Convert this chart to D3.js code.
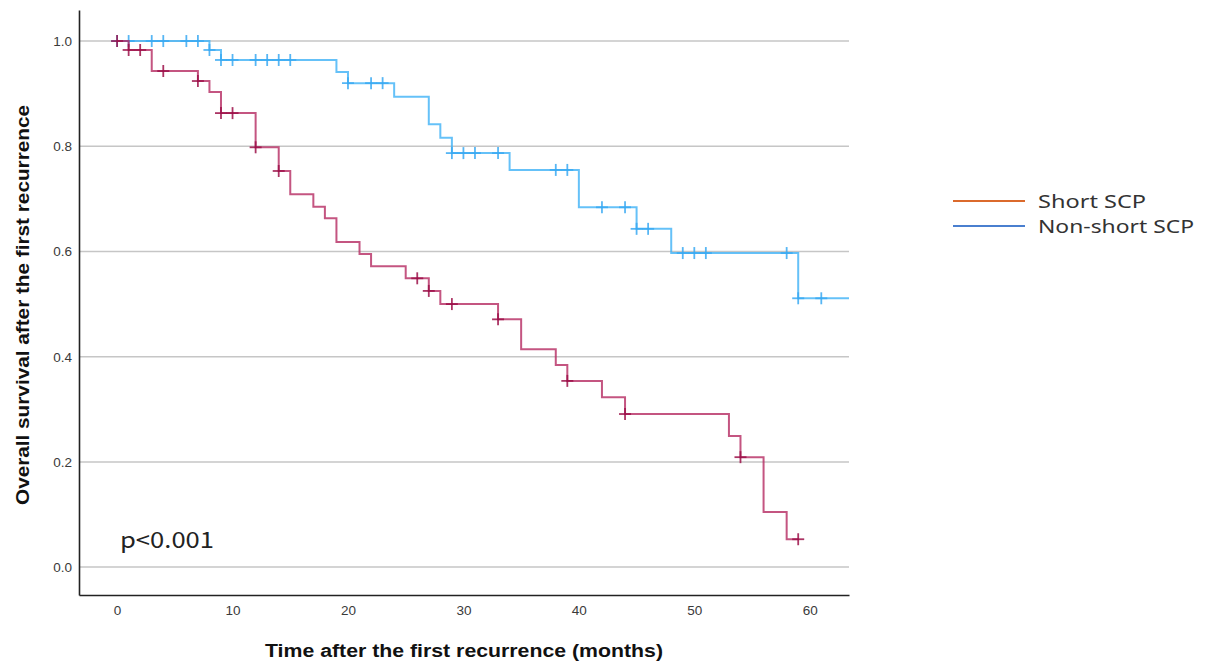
<!DOCTYPE html>
<html>
<head>
<meta charset="utf-8">
<script src="https://cdn.jsdelivr.net/npm/d3@7"></script>
<style>
  body { margin: 0; background: #fff; }
  svg { display: block; }
</style>
</head>
<body>
<svg width="1205" height="661"></svg>
<script>
// step curves (months, survival)
var shortTimes = [0, 1, 3, 7, 8, 9, 12, 14, 15, 17, 18, 19, 21, 22, 25, 27, 28, 33, 35, 38, 39, 42, 44, 53, 54, 56, 58];
var shortSurv  = [1.0, 0.983, 0.943, 0.924, 0.903, 0.863, 0.798, 0.753, 0.709, 0.685, 0.663, 0.618, 0.595, 0.572, 0.549, 0.525, 0.500, 0.471, 0.414, 0.384, 0.354, 0.323, 0.291, 0.249, 0.209, 0.105, 0.053];
var shortCensor = [0, 1, 2, 4, 7, 9, 10, 12, 14, 26, 27, 29, 33, 39, 44, 54, 59];
var shortEnd = 59;

var nonShortTimes = [0, 8, 9, 19, 20, 24, 27, 28, 29, 34, 40, 45, 48, 59];
var nonShortSurv  = [1.0, 0.983, 0.964, 0.941, 0.920, 0.894, 0.842, 0.816, 0.787, 0.755, 0.684, 0.643, 0.597, 0.511];
var nonShortCensor = [0, 1, 3, 4, 6, 7, 8, 9, 10, 12, 13, 14, 15, 20, 22, 23, 29, 30, 31, 33, 38, 39, 42, 44, 45, 46, 49, 50, 51, 58, 59, 61];
var nonShortEnd = 63.4;

var xTicks = [0, 10, 20, 30, 40, 50, 60];
var yTicks = [0.0, 0.2, 0.4, 0.6, 0.8, 1.0];
var legendNames = ["Short SCP", "Non-short SCP"];
var legendColors = ["#db6a2c", "#4a7fcf"];
var legendWidths = [108, 156];

var svg = d3.select("svg");

var x = d3.scaleLinear().domain([-3.3, 63.4]).range([79, 849]);
var y = d3.scaleLinear().domain([-0.053, 1.059]).range([595, 10]);

// grid
svg.append("g").selectAll("line")
  .data(yTicks)
  .enter().append("line")
  .attr("x1", x(-3.3)).attr("x2", x(63.4))
  .attr("y1", function(d) { return y(d); })
  .attr("y2", function(d) { return y(d); })
  .attr("stroke", "#c6c6c6")
  .attr("stroke-width", 1.5);

// axes (no tick marks)
var yAxis = svg.append("g")
  .attr("transform", "translate(" + x(-3.3) + ",0)")
  .call(d3.axisLeft(y).tickValues(yTicks).tickSize(0).tickPadding(7).tickFormat(d3.format(".1f")));
var xAxis = svg.append("g")
  .attr("transform", "translate(0," + y(-0.053) + ")")
  .call(d3.axisBottom(x).tickValues(xTicks).tickSize(0).tickPadding(10));

[xAxis, yAxis].forEach(function(a) {
  a.select(".domain").attr("stroke", "#222").attr("stroke-width", 1.6);
  a.selectAll("text")
    .attr("font-family", "Liberation Sans, Arial, sans-serif")
    .attr("font-size", 13.5)
    .attr("fill", "#3a3a3a");
});

function stepData(times, surv, end) {
  var pts = times.map(function(t, i) { return {t: t, s: surv[i]}; });
  pts.push({t: end, s: surv[surv.length - 1]});
  return pts;
}

function survAt(times, surv, t) {
  var s = surv[0];
  for (var i = 0; i < times.length; ++i) {
    if (times[i] <= t) s = surv[i];
  }
  return s;
}

var line = d3.line()
  .curve(d3.curveStepAfter)
  .x(function(d) { return x(d.t); })
  .y(function(d) { return y(d.s); });

function drawGroup(times, surv, censor, end, color, markColor) {
  svg.append("path")
    .datum(stepData(times, surv, end))
    .attr("d", line)
    .attr("fill", "none")
    .attr("stroke", color)
    .attr("stroke-width", 2)
    .attr("stroke-opacity", 0.8);

  var marks = svg.append("g").selectAll("g")
    .data(censor)
    .enter().append("g")
    .attr("transform", function(d) {
      return "translate(" + x(d) + "," + y(survAt(times, surv, d)) + ")";
    })
    .attr("stroke", markColor)
    .attr("stroke-width", 1.8)
    .attr("stroke-opacity", 0.85);
  marks.append("line").attr("x1", 0).attr("x2", 0).attr("y1", -6).attr("y2", 6);
  marks.append("line").attr("x1", -6).attr("x2", 6).attr("y1", 0).attr("y2", 0);
}

drawGroup(nonShortTimes, nonShortSurv, nonShortCensor, nonShortEnd, "#3fb1f6", "#3aa9f2");
drawGroup(shortTimes, shortSurv, shortCensor, shortEnd, "#b52a62", "#9c1049");

// axis titles
svg.append("text")
  .attr("x", 464).attr("y", 657)
  .attr("text-anchor", "middle")
  .attr("font-family", "Liberation Sans, Arial, sans-serif")
  .attr("font-weight", "bold")
  .attr("font-size", 18)
  .attr("textLength", 398)
  .attr("lengthAdjust", "spacingAndGlyphs")
  .attr("fill", "#111")
  .text("Time after the first recurrence (months)");

svg.append("text")
  .attr("transform", "translate(29,305) rotate(-90)")
  .attr("text-anchor", "middle")
  .attr("font-family", "Liberation Sans, Arial, sans-serif")
  .attr("font-weight", "bold")
  .attr("font-size", 18)
  .attr("textLength", 400)
  .attr("lengthAdjust", "spacingAndGlyphs")
  .attr("fill", "#111")
  .text("Overall survival after the first recurrence");

// p value
svg.append("text")
  .attr("x", 120).attr("y", 548)
  .attr("font-family", "Noto Sans CJK JP, Noto Sans, sans-serif")
  .attr("font-size", 22)
  .attr("textLength", 94)
  .attr("lengthAdjust", "spacingAndGlyphs")
  .attr("fill", "#222")
  .text("p<0.001");

// legend
var legend = svg.append("g").selectAll("g")
  .data(legendNames)
  .enter().append("g")
  .attr("transform", function(d, i) { return "translate(953," + (201 + i * 25) + ")"; });
legend.append("line")
  .attr("x1", 0).attr("x2", 72)
  .attr("stroke", function(d, i) { return legendColors[i]; })
  .attr("stroke-width", 2);
legend.append("text")
  .attr("x", 85).attr("y", 7)
  .attr("font-family", "Noto Sans, sans-serif")
  .attr("font-size", 18)
  .attr("textLength", function(d, i) { return legendWidths[i]; })
  .attr("lengthAdjust", "spacingAndGlyphs")
  .attr("fill", "#333")
  .text(function(d) { return d; });
</script>
</body>
</html>
